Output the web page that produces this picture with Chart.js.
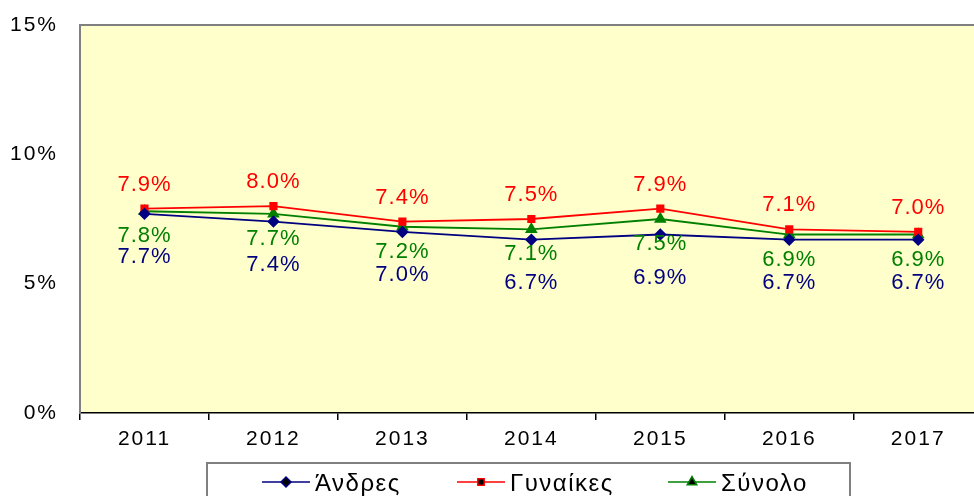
<!DOCTYPE html>
<html>
<head>
<meta charset="utf-8">
<script src="https://cdn.jsdelivr.net/npm/chart.js@4.4.0/dist/chart.umd.min.js"></script>
<style>
  html, body { margin: 0; padding: 0; background: #fff; overflow: hidden; }
  #wrap { width: 990px; height: 520px; }
</style>
</head>
<body>
<div id="wrap"><canvas id="chart" width="990" height="520"></canvas></div>
<script>
    // Chart data
    const years = ['2011', '2012', '2013', '2014', '2015', '2016', '2017'];
    const men = [7.7, 7.4, 7.0, 6.7, 6.9, 6.7, 6.7];
    const women = [7.9, 8.0, 7.4, 7.5, 7.9, 7.1, 7.0];
    const total = [7.8, 7.7, 7.2, 7.1, 7.5, 6.9, 6.9];
    const yTicks = [0, 5, 10, 15];

    const FONT = '"Liberation Sans", Arial, sans-serif';

    // Yellow plot background with grey border, wider letters for axis text
    const plotBackground = {
        id: 'plotBackground',
        beforeDraw(chart) {
            const { ctx, chartArea: a } = chart;
            ctx.letterSpacing = '2px';
            ctx.save();
            ctx.fillStyle = '#FFFFCC';
            ctx.fillRect(a.left, a.top, a.right - a.left, a.bottom - a.top);
            ctx.strokeStyle = '#808080';
            ctx.lineWidth = 2;
            ctx.beginPath();
            ctx.moveTo(a.left, a.bottom);
            ctx.lineTo(a.left, a.top);
            ctx.lineTo(a.right, a.top);
            ctx.lineTo(a.right, a.bottom);
            ctx.stroke();
            ctx.restore();
        }
    };

    // Value labels next to every point
    const valueLabels = {
        id: 'valueLabels',
        afterDatasetsDraw(chart) {
            const ctx = chart.ctx;
            ctx.save();
            ctx.font = '22px ' + FONT;
            ctx.letterSpacing = '1px';
            ctx.textAlign = 'center';
            ctx.textBaseline = 'middle';
            chart.data.datasets.forEach((ds, i) => {
                const meta = chart.getDatasetMeta(i);
                ctx.fillStyle = ds.labelColor;
                meta.data.forEach((pt, j) => {
                    ctx.fillText(ds.data[j].toFixed(1) + '%', pt.x, pt.y + ds.labelOffset);
                });
            });
            ctx.restore();
        }
    };

    // Boxed legend with line + marker samples
    const boxLegend = {
        id: 'boxLegend',
        afterDraw(chart) {
            const ctx = chart.ctx;
            const top = 463, left = 207, right = 850;
            ctx.save();
            ctx.strokeStyle = '#808080';
            ctx.lineWidth = 2;
            ctx.strokeRect(left, top, right - left, 60);
            ctx.font = '24px ' + FONT;
            ctx.letterSpacing = '1.5px';
            ctx.textBaseline = 'middle';
            const starts = [262, 457, 668];
            chart.data.datasets.forEach((ds, i) => {
                const x = starts[i], y = 482;
                ctx.strokeStyle = ds.borderColor;
                ctx.lineWidth = 1.5;
                ctx.beginPath();
                ctx.moveTo(x, y);
                ctx.lineTo(x + 48, y);
                ctx.stroke();
                Chart.helpers.drawPoint(ctx, {
                    pointStyle: ds.pointStyle,
                    radius: ds.pointRadius,
                    borderWidth: 1,
                    rotation: 0
                }, x + 24, y);
                ctx.fillStyle = '#000';
                ctx.fillText(ds.label, x + 53, y + 2);
            });
            ctx.restore();
        }
    };

    function series(label, data, color, style, radius, offset) {
        return {
            label: label,
            data: data,
            borderColor: color,
            backgroundColor: color,
            pointBackgroundColor: color,
            pointBorderColor: color,
            pointStyle: style,
            pointRadius: radius,
            pointHoverRadius: radius,
            borderWidth: 1.8,
            tension: 0,
            labelColor: color,
            labelOffset: offset
        };
    }

    const ctx = document.getElementById('chart').getContext('2d');
    const chart = new Chart(ctx, {
        type: 'line',
        data: {
            labels: years,
            datasets: [
                series('Άνδρες', men, '#000080', 'rectRot', 5, 43),
                series('Γυναίκες', women, '#FF0000', 'rect', 4.5, -24),
                series('Σύνολο', total, '#008000', 'triangle', 5.5, 25)
            ]
        },
        options: {
            responsive: false,
            animation: false,
            layout: { padding: { top: 25, left: 0, right: 5, bottom: 62 } },
            plugins: {
                legend: { display: false },
                tooltip: { enabled: false }
            },
            scales: {
                x: {
                    offset: true,
                    afterFit(scale) {
                        scale.height = 45;
                        scale.paddingLeft = 0;
                        scale.paddingRight = 0;
                    },
                    grid: { display: true, drawOnChartArea: false, offset: true, tickLength: 7, color: '#000', lineWidth: 1.5 },
                    border: { display: true, color: '#000', width: 1.5 },
                    ticks: { color: '#000', font: { family: FONT, size: 21 }, padding: 7 }
                },
                y: {
                    min: 0,
                    max: 15,
                    afterFit(scale) {
                        scale.width = 80;
                        scale.paddingTop = 0;
                        scale.paddingBottom = 0;
                    },
                    afterBuildTicks(scale) { scale.ticks = yTicks.map(v => ({ value: v })); },
                    grid: { display: false },
                    border: { display: true, color: '#808080', width: 2 },
                    ticks: {
                        color: '#000',
                        font: { family: FONT, size: 21 },
                        padding: 14,
                        callback: v => v + '%'
                    }
                }
            }
        },
        plugins: [plotBackground, valueLabels, boxLegend]
    });
</script>
</body>
</html>
